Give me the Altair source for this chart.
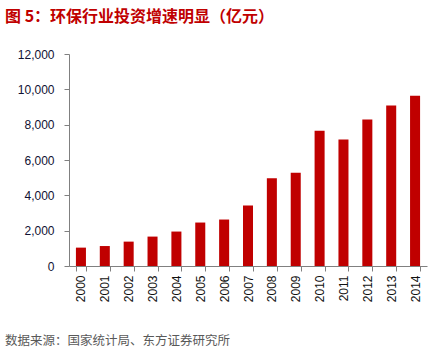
import altair as alt
import pandas as pd

years = ["2000", "2001", "2002", "2003", "2004", "2005", "2006", "2007",
         "2008", "2009", "2010", "2011", "2012", "2013", "2014"]
values = [1040, 1130, 1380, 1665, 1950, 2460, 2630, 3425,
          4960, 5285, 7650, 7160, 8295, 9090, 9640]

title_text = "图 5：环保行业投资增速明显（亿元）"
source_text = "数据来源：国家统计局、东方证券研究所"

df = pd.DataFrame({"year": years, "value": values})

bars = alt.Chart(df).mark_bar(color="#C00000").encode(
    x=alt.X("year:N", sort=years, title=None,
            scale=alt.Scale(paddingInner=0.58, paddingOuter=0.29),
            axis=alt.Axis(labelAngle=-90, labelAlign="right", labelBaseline="middle",
                          tickBand="extent", domainColor="#808080", tickColor="#808080",
                          tickSize=5, labelPadding=4, labelFontSize=12,
                          labelFont="Liberation Sans", labelColor="#111111")),
    y=alt.Y("value:Q", title=None,
            scale=alt.Scale(domain=[0, 12000], nice=False),
            axis=alt.Axis(values=[0, 2000, 4000, 6000, 8000, 10000, 12000],
                          format=",.0f", grid=False, domainColor="#808080",
                          tickColor="#808080", tickSize=5, labelPadding=10,
                          labelFontSize=12, labelFont="Liberation Sans",
                          labelColor="#111133")),
)

src = alt.Chart(pd.DataFrame({"t": [source_text]})).mark_text(
    align="left", baseline="middle", fontSize=12.5, color="#595959",
    font="Noto Sans CJK SC"
).encode(text="t:N", x=alt.value(-64), y=alt.value(287))

chart = alt.layer(bars, src).properties(
    width=358, height=212,
    padding={"left": 69, "top": 54, "right": 9, "bottom": 87},
    autosize=alt.AutoSizeParams(type="none"),
    title=alt.TitleParams(title_text, anchor="start", frame="group", dx=-64,
                          offset=23, fontSize=16, fontWeight="bold",
                          color="#C00000", font="Noto Sans CJK SC"),
).configure_view(stroke=None)

chart.save("out.html", embed_options={"renderer": "svg", "actions": False})
